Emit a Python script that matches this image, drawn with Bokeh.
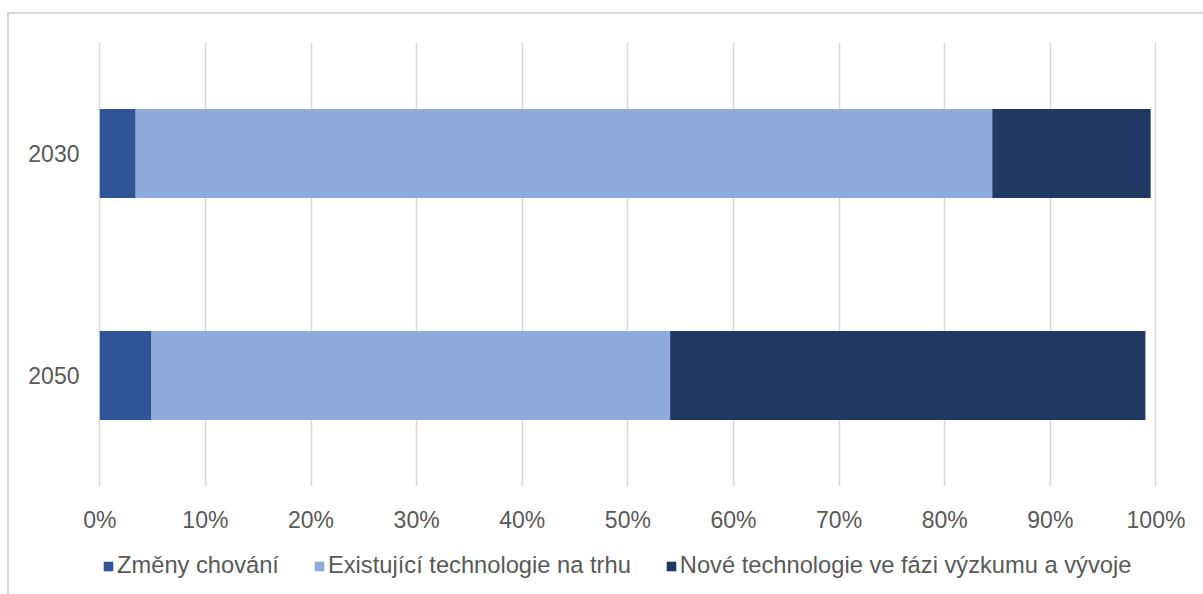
from bokeh.plotting import figure
from bokeh.layouts import column
from bokeh.models import FactorRange, Range1d, Legend, LegendItem, PrintfTickFormatter, FixedTicker
from bokeh.embed import file_html
from bokeh.resources import INLINE

years = ["2030", "2050"]
zmeny = [3.4, 4.9]
existujici = [81.1, 49.1]
nove = [15.0, 45.0]
series_names = ["Změny chování", "Existující technologie na trhu", "Nové technologie ve fázi výzkumu a vývoje"]
colors = ["#2F5597", "#8FAADC", "#203864"]
x_ticks = list(range(0, 101, 10))

FONT = "Liberation Sans"
TXT = "#595959"

data = {"year": years, "zmeny": zmeny, "existujici": existujici, "nove": nove}

p = figure(width=1194, height=526, y_range=FactorRange("2050", "2030"),
           x_range=Range1d(-0.12, 100.05), output_backend="svg", toolbar_location=None,
           min_border_left=89, min_border_right=47, min_border_top=28, min_border_bottom=54)

renderers = p.hbar_stack(["zmeny", "existujici", "nove"], y="year", height=0.4,
                         color=colors, line_color=None, source=data)

p.outline_line_color = None
p.ygrid.grid_line_color = None
p.xgrid.grid_line_color = "#D9D9D9"
p.xgrid.grid_line_width = 1.5
p.xaxis.ticker = FixedTicker(ticks=x_ticks)
p.xaxis.formatter = PrintfTickFormatter(format="%d%%")
for ax in (p.xaxis[0], p.yaxis[0]):
    ax.axis_line_color = None
    ax.major_tick_line_color = None
    ax.minor_tick_line_color = None
    ax.major_label_text_font = FONT
    ax.major_label_text_font_size = "23px"
    ax.major_label_text_color = TXT
p.xaxis.major_label_standoff = 14
p.yaxis.major_label_standoff = 13

# legend strip below the chart (its frame is aligned with the main frame)
lg = figure(width=1194, height=54, x_range=Range1d(0, 1), y_range=Range1d(0, 1),
            output_backend="svg", toolbar_location=None,
            min_border_left=89, min_border_right=47, min_border_top=0, min_border_bottom=0)
lg.axis.visible = False
lg.grid.visible = False
lg.outline_line_color = None
# legend-only swatches, placed outside the visible range
dummies = [lg.hbar(y=[-10], left=[0], right=[1], height=0.5, color=c, line_color=None)
           for c in colors]

items = [LegendItem(label=n, renderers=[r]) for n, r in zip(series_names, dummies)]
legend = Legend(items=items, orientation="horizontal", location=(4, 15),
                glyph_width=12, glyph_height=12, label_standoff=3, spacing=34,
                padding=0, margin=0, border_line_color=None, background_fill_alpha=0,
                label_text_font=FONT, label_text_font_size="23.7px", label_text_color=TXT)
lg.add_layout(legend, "center")

layout = column(p, lg, spacing=0,
                styles={"border-left": "2px solid #D9D9D9", "border-top": "2px solid #D9D9D9",
                        "margin-left": "7px", "margin-top": "12px"})

open("out.html", "w").write(file_html(layout, INLINE))
